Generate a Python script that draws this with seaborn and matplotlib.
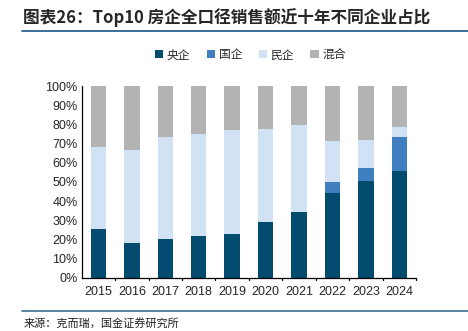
import matplotlib
matplotlib.use("Agg")
import matplotlib.pyplot as plt
from matplotlib.lines import Line2D
from matplotlib.patches import Patch
import numpy as np
import pandas as pd
import seaborn as sns

years = ["2015", "2016", "2017", "2018", "2019", "2020", "2021", "2022", "2023", "2024"]
central_soe = [25.2, 18.3, 20.2, 21.6, 22.6, 28.9, 34.1, 44.2, 50.6, 55.7]
local_soe = [0, 0, 0, 0, 0, 0, 0, 5.6, 6.8, 17.5]
private = [42.8, 48.5, 53.4, 53.4, 54.3, 48.5, 45.4, 21.5, 14.4, 5.6]
mixed = [32.0, 33.2, 26.4, 25.0, 23.1, 22.6, 20.5, 28.7, 28.2, 21.2]

series_names = ["央企", "国企", "民企", "混合"]
series_colors = ["#034b6f", "#3f7fbf", "#d0e2f3", "#b3b3b3"]

sns.set_theme(style="white")
plt.rcParams["font.family"] = ["Liberation Sans", "Noto Sans CJK SC", "DejaVu Sans"]

fig = plt.figure(figsize=(4.68, 3.31), dpi=100)
ax = fig.add_axes([0.1746, 0.161, 0.7144, 0.579])

parts = np.array([central_soe, local_soe, private, mixed]) / 100.0
cum = np.cumsum(parts, axis=0)

# stacked bars: draw the tallest cumulative layer first
for i in range(3, -1, -1):
    df = pd.DataFrame({"year": years, "value": cum[i]})
    sns.barplot(data=df, x="year", y="value", color=series_colors[i],
                width=0.46, saturation=1, ax=ax, edgecolor="none")

ax.set_xlim(-0.5, 9.5)
ax.set_ylim(0, 1)
ax.set_yticks(np.arange(0, 1.01, 0.1))
ax.set_yticklabels([f"{int(round(v * 100))}%" for v in np.arange(0, 1.01, 0.1)], fontsize=9)
ax.set_xlabel("")
ax.set_ylabel("")
ax.tick_params(axis="x", length=0, labelsize=9, pad=6)
ax.tick_params(axis="y", length=0, pad=3)
for s in ["top", "right"]:
    ax.spines[s].set_visible(False)
for s in ["left", "bottom"]:
    ax.spines[s].set_color("black")
    ax.spines[s].set_linewidth(0.9)
# tick marks between categories
for b in np.arange(0.5, 9.6, 1.0):
    ax.plot([b, b], [0, -0.012], color="black", lw=0.9, clip_on=False,
            transform=ax.transData)

handles = [Patch(facecolor=c, edgecolor="none") for c in series_colors]
fig.legend(handles, series_names, loc="center", bbox_to_anchor=(0.535, 0.834),
           ncol=4, frameon=False, handlelength=0.7, handleheight=0.7,
           handletextpad=0.3, columnspacing=1.4,
           prop={"family": ["Noto Sans CJK SC"], "size": 8.5})

fig.text(0.05, 0.948, "图表26：Top10 房企全口径销售额近十年不同企业占比",
         fontsize=12, fontweight="bold", style="italic", va="center", ha="left",
         family=["Noto Sans CJK SC", "DejaVu Sans"])
fig.add_artist(Line2D([0.047, 1.0], [0.906, 0.906], color="#3a6f96", lw=1.4))
fig.add_artist(Line2D([0.047, 1.0], [0.06, 0.06], color="#3a6f96", lw=1.2))
fig.text(0.05, 0.024, "来源：克而瑞，国金证券研究所", fontsize=8, va="center", ha="left",
         family=["Noto Sans CJK SC", "DejaVu Sans"], color="#222222")

fig.savefig("out.png", dpi=100)
